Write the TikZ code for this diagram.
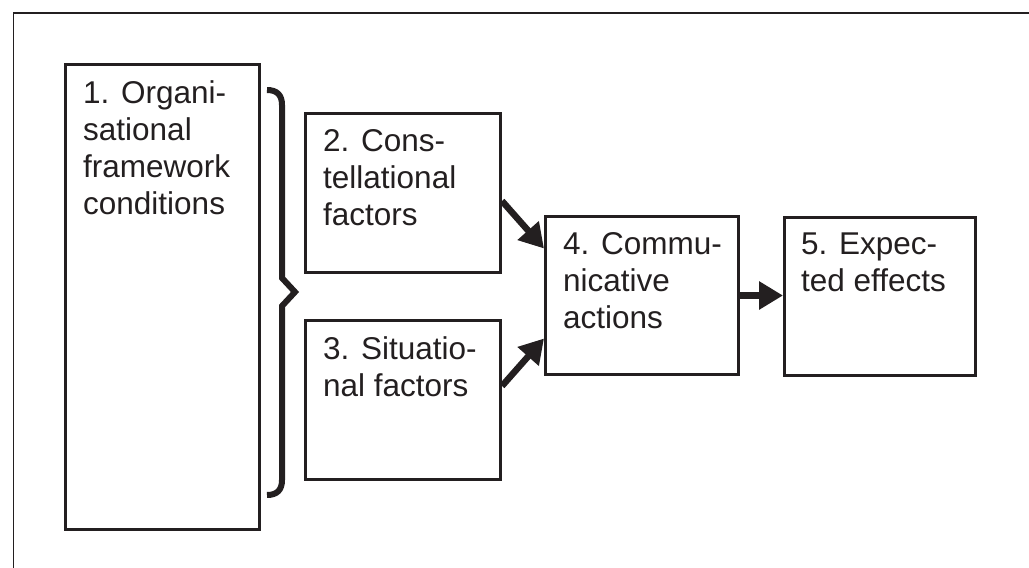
\documentclass[tikz,border=0pt]{standalone}
\usepackage{fontspec}
\setmainfont{Liberation Sans}
\usetikzlibrary{arrows.meta,positioning}
\definecolor{ink}{HTML}{231F20}
\tikzset{
    blk/.style={draw=ink, line width=3pt, inner sep=0pt, anchor=north west},
    lbl/.style={anchor=north west, inner sep=0pt, align=left, text=ink,
        font=\fontsize{31.5}{37}\selectfont},
    flow/.style={draw=ink, line width=6.5pt, -{Triangle[length=24pt,width=27pt]}}
}

\begin{document}
\begin{tikzpicture}[x=1pt, y=-1pt]
                        \useasboundingbox (0, 0) rectangle (1029, 568);
                        \draw[ink, line width=1.3pt] (13.5, 568) -- (13.5, 13) -- (1029, 13);

                        \node[blk, minimum width=194pt, minimum height=465pt] (b1) at (64, 63) {};
                        \node[blk, minimum width=195pt, minimum height=159pt] (b2) at (304, 112) {};
                        \node[blk, minimum width=195pt, minimum height=159pt] (b3) at (304, 319) {};
                        \node[blk, minimum width=193pt, minimum height=158pt] (b4) at (544, 215) {};
                        \node[blk, minimum width=191pt, minimum height=158pt] (b5) at (783, 216) {};

                        \node[lbl] (t1) at (83, 80) {1. Organi-\\sational\\framework\\conditions};
                        \node[lbl] (t2) at (323, 129) {2. Cons-\\tellational\\factors};
                        \node[lbl] (t3) at (323, 336) {3. Situatio-\\nal factors};
                        \node[lbl] (t4) at (563, 232) {4. Commu-\\nicative\\actions};
                        \node[lbl] (t5) at (801, 233) {5. Expec-\\ted effects};

                        \draw[ink, line width=6pt, line join=miter]
                        (267, 90) .. controls (277, 90) and (282, 95) .. (282, 105) -- (282, 278) -- (295, 292) -- (282, 306) -- (282, 480) .. controls (282, 490) and (277, 495) .. (267, 495);

                        \draw[flow] ([yshift=-8pt]b2.east) -- ([yshift=47pt]b4.west);
                        \draw[flow] ([yshift=14pt]b3.east) -- ([yshift=-43pt]b4.west);
                        \draw[flow] (b4.east) -- (b4.east -| b5.west);
                    \end{tikzpicture}
\end{document}
